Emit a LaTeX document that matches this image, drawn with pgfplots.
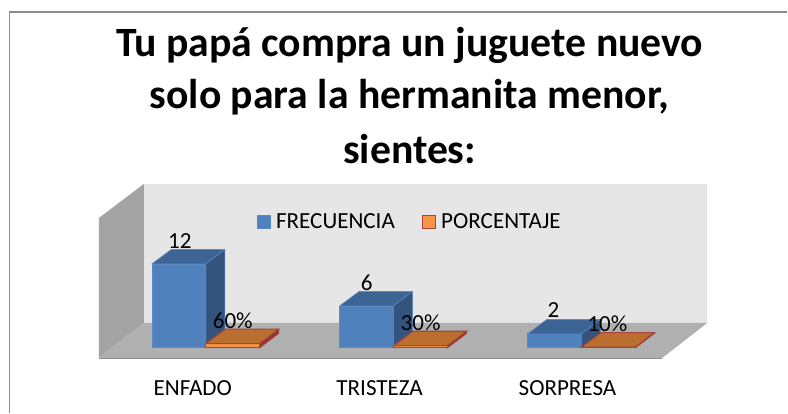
\documentclass[border=0pt]{standalone}
\usepackage{fontspec}
\setmainfont{Carlito}
\usepackage{pgfplots}
\pgfplotsset{compat=1.18}
% 1 px = 0.75pt; x is the pixel column, y the value (7 px per unit, base at pixel row 348)
\definecolor{wallback}{HTML}{E6E6E6}
\definecolor{wallleft}{HTML}{A3A3A3}
\definecolor{floorc}{HTML}{B0B0B0}
\definecolor{framec}{HTML}{8C8C8C}
\definecolor{bluef}{HTML}{4F81BD}
\definecolor{bluet}{HTML}{3C6494}
\definecolor{blues}{HTML}{34547E}
\definecolor{blueb}{HTML}{5B8AC2}
\definecolor{orangef}{HTML}{F79646}
\definecolor{oranget}{HTML}{BA6F30}
\definecolor{orangeb}{HTML}{A8423A}
\pgfplotsset{
  fr/.style={forget plot,fill=bluef,draw=blueb,line width=0.5pt},
  tp/.style={forget plot,fill=bluet,draw=blueb,line width=0.4pt},
  sd/.style={forget plot,fill=blues,draw=blueb,line width=0.4pt},
  ofr/.style={forget plot,fill=orangef,draw=orangeb,line width=0.8pt},
  otp/.style={forget plot,fill=oranget,draw=orangeb,line width=0.8pt},
  osd/.style={forget plot,fill=orangeb!85!black,draw=orangeb,line width=0.6pt},
  vals/.style={forget plot,draw=none,mark=none,nodes near coords,point meta=explicit symbolic,
    every node near coord/.style={anchor=center,yshift=17.5pt,font=\fontsize{17.3}{17.3}\selectfont,text=black}},
}
\begin{document}
\begin{tikzpicture}
\begin{axis}[scale only axis,width=591pt,height=309.75pt,
  xmin=0,xmax=788,ymin=-9.2857,ymax=49.7143,
  axis line style={draw=none},clip=false,
  ytick=\empty,xtick={193,380,568},xticklabels={ENFADO,TRISTEZA,SORPRESA},
  major tick length=0pt,
  xticklabel style={anchor=center,yshift=18.5pt,font=\fontsize{17.3}{17.3}\selectfont},
  title={Tu papá compra un juguete nuevo\\[2pt]solo para la hermanita menor,\\[5pt]sientes:},
  title style={at={(axis cs:410,45.3)},anchor=north,align=center,
    font=\fontsize{31.3}{36.5}\selectfont\bfseries},
  legend columns=2,
  legend style={at={(axis cs:410.5,18)},anchor=center,draw=none,fill=none,
    font=\fontsize{17.3}{17.3}\selectfont,
    /tikz/every even column/.append style={column sep=18pt}},
  legend image code/.code={\fill[#1,draw=none] (0pt,-5pt) rectangle (10pt,5pt);
    \draw[#1,fill=none] (0pt,-5pt) rectangle (10pt,5pt);\path (12pt,0pt);},
]
% frame
\addplot[forget plot,framec,line width=1.1pt] coordinates {(9.5,-9.2857)(9.5,48)(788,48)};
% walls and floor
\addplot[forget plot,fill=wallback,draw=none] coordinates {(144,3.57)(708,3.57)(708,23.43)(144,23.43)} --cycle;
\addplot[forget plot,fill=wallleft,draw=none] coordinates {(99,-1.43)(144,3.57)(144,23.43)(99,18.57)} --cycle;
\addplot[forget plot,fill=floorc,draw=none] coordinates {(99,-1.43)(144,3.57)(708,3.57)(663,-1.43)} --cycle;
\addplot[forget plot,framec,line width=0.9pt] coordinates {(99,-1.55)(663,-1.55)};
% FRECUENCIA: front faces carry the values 12, 6, 2
\addplot[fr,forget plot=false] coordinates {(152,0)(206,0)(206,12)(152,12)} --cycle;
\addlegendentry{FRECUENCIA}
\addplot[tp] coordinates {(152,12)(206,12)(225,14.07)(171.5,14.07)} --cycle;
\addplot[sd] coordinates {(206,0)(225,2.07)(225,14.07)(206,12)} --cycle;
\addplot[fr] coordinates {(340,0)(394,0)(394,6)(340,6)} --cycle;
\addplot[tp] coordinates {(340,6)(394,6)(413,8.07)(359.5,8.07)} --cycle;
\addplot[sd] coordinates {(394,0)(413,2.07)(413,8.07)(394,6)} --cycle;
\addplot[fr] coordinates {(528,0)(582,0)(582,2)(528,2)} --cycle;
\addplot[tp] coordinates {(528,2)(582,2)(601,4.07)(547.5,4.07)} --cycle;
\addplot[sd] coordinates {(582,0)(601,2.07)(601,4.07)(582,2)} --cycle;
% PORCENTAJE: 0.6, 0.3, 0.1 on the same scale
\addplot[ofr,forget plot=false] coordinates {(206,0)(260,0)(260,0.6)(206,0.6)} --cycle;
\addlegendentry{PORCENTAJE}
\addplot[otp] coordinates {(206,0.6)(260,0.6)(279,2.67)(225.5,2.67)} --cycle;
\addplot[osd] coordinates {(260,0)(279,2.07)(279,2.67)(260,0.6)} --cycle;
\addplot[ofr] coordinates {(394,0)(448,0)(448,0.3)(394,0.3)} --cycle;
\addplot[otp] coordinates {(394,0.3)(448,0.3)(467,2.37)(413.5,2.37)} --cycle;
\addplot[osd] coordinates {(448,0)(467,2.07)(467,2.37)(448,0.3)} --cycle;
\addplot[ofr] coordinates {(582,0)(636,0)(636,0.1)(582,0.1)} --cycle;
\addplot[otp] coordinates {(582,0.1)(636,0.1)(655,2.17)(601.5,2.17)} --cycle;
\addplot[osd] coordinates {(636,0)(655,2.07)(655,2.17)(636,0.1)} --cycle;
% value labels
\addplot[vals] coordinates {(180,12)[12] (367,6)[6] (554,2)[2]};
\addplot[vals] coordinates {(233,0.6)[60\%] (421,0.3)[30\%] (608,0.1)[10\%]};
\end{axis}
\end{tikzpicture}
\end{document}
